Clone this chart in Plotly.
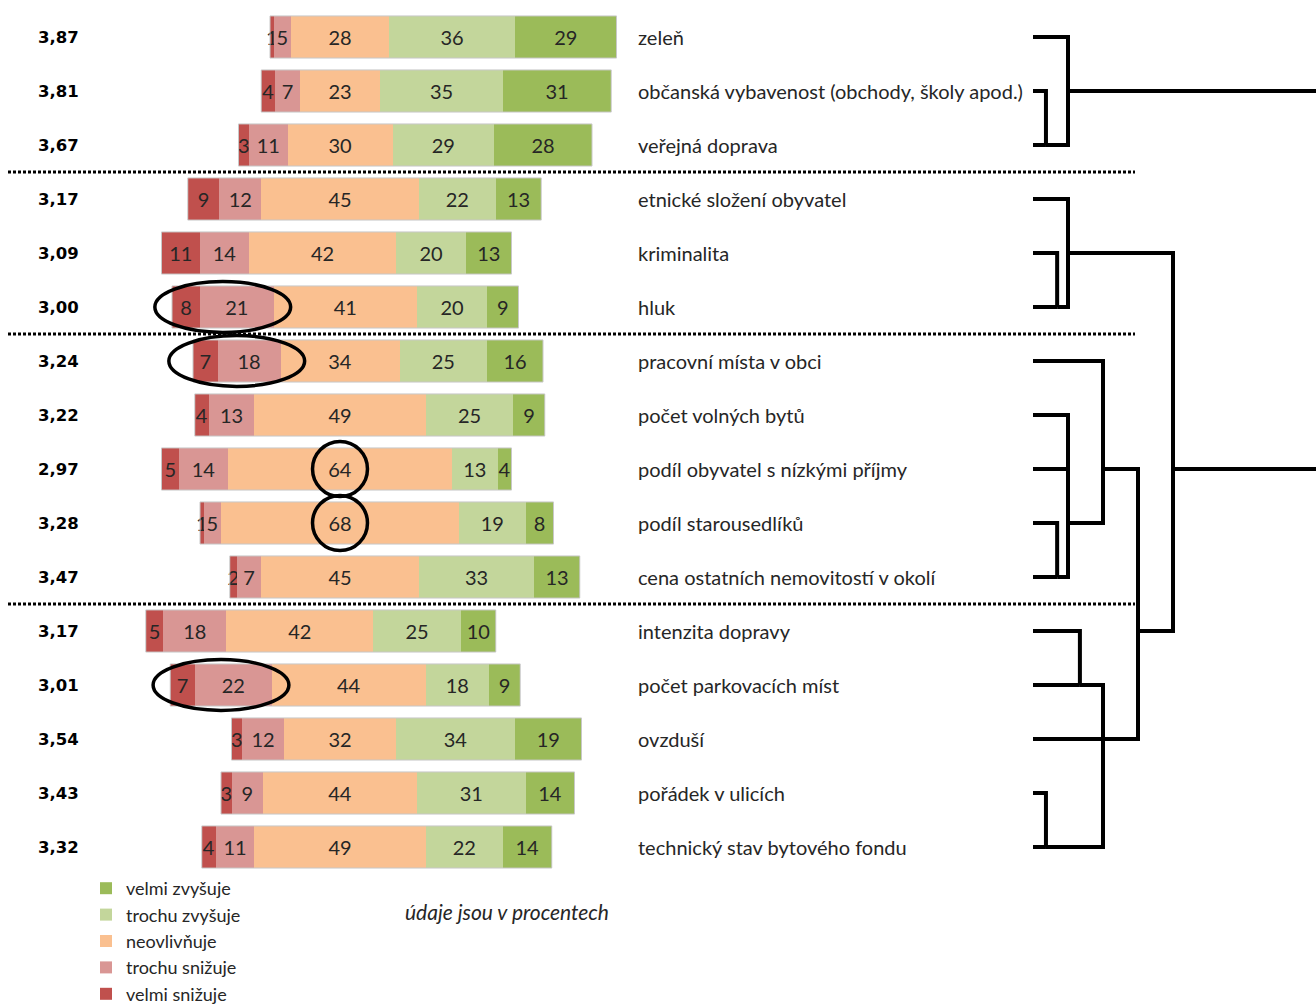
import plotly.graph_objects as go

# ---------------- data ----------------
categories = [
    "zeleň", "občanská vybavenost (obchody, školy apod.)", "veřejná doprava",
    "etnické složení obyvatel", "kriminalita", "hluk",
    "pracovní místa v obci", "počet volných bytů", "podíl obyvatel s nízkými příjmy",
    "podíl starousedlíků", "cena ostatních nemovitostí v okolí",
    "intenzita dopravy", "počet parkovacích míst", "ovzduší", "pořádek v ulicích",
    "technický stav bytového fondu",
]
means = ["3,87", "3,81", "3,67", "3,17", "3,09", "3,00", "3,24", "3,22", "2,97",
         "3,28", "3,47", "3,17", "3,01", "3,54", "3,43", "3,32"]

velmi_snizuje = [1, 4, 3, 9, 11, 8, 7, 4, 5, 1, 2, 5, 7, 3, 3, 4]
trochu_snizuje = [5, 7, 11, 12, 14, 21, 18, 13, 14, 5, 7, 18, 22, 12, 9, 11]
neovlivnuje = [28, 23, 30, 45, 42, 41, 34, 49, 64, 68, 45, 42, 44, 32, 44, 49]
trochu_zvysuje = [36, 35, 29, 22, 20, 20, 25, 25, 13, 19, 33, 25, 18, 34, 31, 22]
velmi_zvysuje = [29, 31, 28, 13, 13, 9, 16, 9, 4, 8, 13, 10, 9, 19, 14, 14]
# invisible leading (padding) series of the original stacked chart
vypln = [40, 37.5, 31, 16.5, 9, 12, 18, 18.5, 9, 20, 28.5, 4.5, 11.5, 29, 26, 20.5]

series_names = ["velmi snižuje", "trochu snižuje", "neovlivňuje", "trochu zvyšuje", "velmi zvyšuje"]
series_values = [velmi_snizuje, trochu_snizuje, neovlivnuje, trochu_zvysuje, velmi_zvysuje]
series_colors = ["#C0504D", "#D99694", "#FAC090", "#C3D69B", "#9BBB59"]

group_sizes = [3, 3, 5, 5]

# highlighted segments: (row, first segment, last segment)
highlights = [(5, 0, 1), (6, 0, 1), (8, 2, 2), (9, 2, 2), (12, 0, 1)]

# dendrogram merges: (name, children, merge height, row of the output line)
dendro_merges = [
    ("A1", [1, 2], 0.37, 2),
    ("A", [0, "A1"], 1.0, 1),
    ("B1", [4, 5], 0.69, 5),
    ("B", [3, "B1"], 1.0, 4),
    ("C1", [9, 10], 0.69, 10),
    ("C2", [7, 8, "C1"], 1.0, 9),
    ("C", [6, "C2"], 2.0, 8),
    ("D1", [11, 12], 1.34, 12),
    ("D2", [14, 15], 0.37, 15),
    ("D", ["D1", 13, "D2"], 2.0, 13),
    ("CD", ["C", "D"], 3.0, 11),
    ("BCD", ["B", "CD"], 4.0, 8),
    ("root", ["A", "BCD"], 9.0, 4),
]

# ---------------- layout constants ----------------
W, H = 1316, 1005
PX_PER_PCT = 3.5
CENTER_PX, CENTER_VAL = 340, 60
ROW0_PX, ROW_PX = 37, 54
DEND_X0_PX, DEND_PX_PER_UNIT = 1033, 35

x_range = [CENTER_VAL - CENTER_PX / PX_PER_PCT, CENTER_VAL + (W - CENTER_PX) / PX_PER_PCT]
y_range = [(H - ROW0_PX) / ROW_PX, -ROW0_PX / ROW_PX]
x2_range = [-DEND_X0_PX / DEND_PX_PER_UNIT, (W - DEND_X0_PX) / DEND_PX_PER_UNIT]

rows = list(range(len(categories)))
TXT = "#262626"
FONT = "Lato"

fig = go.Figure()

fig.add_trace(go.Bar(
    y=rows, x=vypln, orientation="h",
    marker=dict(color="rgba(0,0,0,0)", line=dict(width=0)),
    showlegend=False, hoverinfo="skip", width=0.78,
))
for name, vals, col in zip(series_names, series_values, series_colors):
    fig.add_trace(go.Bar(
        y=rows, x=vals, orientation="h", name=name,
        marker=dict(color=col, line=dict(width=0)),
        text=[str(v) for v in vals], textposition="inside",
        insidetextanchor="middle", textangle=0, constraintext="none",
        textfont=dict(family=FONT, size=20, color=TXT),
        width=0.78,
    ))

# dendrogram
node = {}
for name, children, h, out in dendro_merges:
    node[name] = (h, out)
dx, dy = [], []
for name, children, h, out in dendro_merges:
    for c in children:
        if isinstance(c, int):
            cx, cy = 0.0, c
        else:
            cx, cy = node[c]
        dx += [cx, h, h, None]
        dy += [cy, cy, out, None]
fig.add_trace(go.Scatter(
    x=dx, y=dy, mode="lines", xaxis="x2", yaxis="y",
    line=dict(color="black", width=4), showlegend=False, hoverinfo="skip",
))

shapes = []
# outline of each bar
for i in rows:
    tot = sum(s[i] for s in series_values)
    shapes.append(dict(type="rect", xref="x", yref="y", x0=vypln[i], x1=vypln[i] + tot,
                       y0=i - 0.39, y1=i + 0.39, line=dict(color="#C8C8C8", width=1),
                       fillcolor="rgba(0,0,0,0)", layer="above"))

# dotted separators between groups
b = 0
for g in group_sizes[:-1]:
    b += g
    shapes.append(dict(type="line", xref="paper", yref="y", x0=8 / W, x1=1135 / W,
                       y0=b - 0.5, y1=b - 0.5,
                       line=dict(color="black", width=3, dash="3px,2px")))

# highlight ellipses
for r, s0, s1 in highlights:
    start = vypln[r] + sum(series_values[k][r] for k in range(s0))
    end = start + sum(series_values[k][r] for k in range(s0, s1 + 1))
    cx = (start + end) / 2
    if s0 == s1:
        hw, hh = 7.85, 0.51
    else:
        hw, hh = 19.4, 0.47
    shapes.append(dict(type="circle", xref="x", yref="y", x0=cx - hw, x1=cx + hw,
                       y0=r - hh, y1=r + hh, line=dict(color="black", width=3.5),
                       fillcolor="rgba(0,0,0,0)", layer="above"))

annotations = []
for i in rows:
    annotations.append(dict(x=58 / W, xref="paper", y=i, yref="y", text=means[i],
                            showarrow=False, xanchor="center", yanchor="middle",
                            font=dict(family="DejaVu Sans", size=16.5, color="black", weight="bold")))
    annotations.append(dict(x=636 / W, xref="paper", y=i, yref="y", text=categories[i],
                            showarrow=False, xanchor="left", yanchor="middle",
                            font=dict(family=FONT, size=20, color=TXT)))
annotations.append(dict(x=507 / W, xref="paper", y=1 - 911 / H, yref="paper",
                        text="<i>údaje jsou v procentech</i>", showarrow=False,
                        xanchor="center", yanchor="middle",
                        font=dict(family=FONT, size=21, color=TXT)))

fig.update_layout(
    template="none",
    width=W, height=H, margin=dict(l=0, r=0, t=0, b=0, autoexpand=False),
    paper_bgcolor="white", plot_bgcolor="white",
    barmode="stack", bargap=0.22,
    xaxis=dict(range=x_range, visible=False, domain=[0, 1], fixedrange=True),
    xaxis2=dict(range=x2_range, visible=False, domain=[0, 1], overlaying="x",
                anchor="y", fixedrange=True),
    yaxis=dict(range=y_range, visible=False, domain=[0, 1], fixedrange=True),
    shapes=shapes, annotations=annotations,
    uniformtext=dict(minsize=20, mode="show"),
    showlegend=True,
    legend=dict(x=86 / W, xanchor="left", y=1 - 870 / H, yanchor="top",
                traceorder="reversed", font=dict(family=FONT, size=18, color=TXT),
                bgcolor="rgba(0,0,0,0)", tracegroupgap=0, itemwidth=30, borderwidth=0),
)

fig.write_html(
    "out.html",
    config={"displayModeBar": False, "staticPlot": True},
    post_script="document.body.style.margin='0px';document.body.style.overflow='hidden';",
)
